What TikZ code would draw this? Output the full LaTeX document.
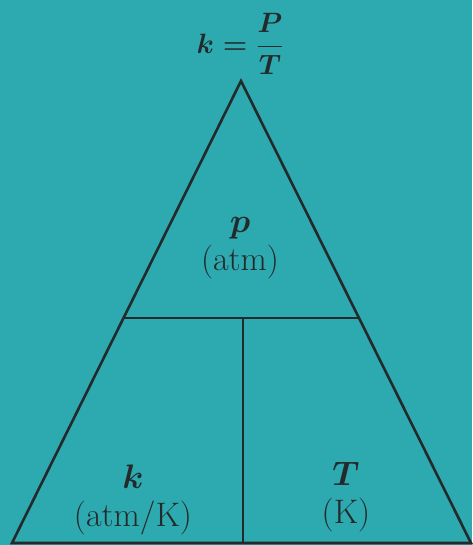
\RequirePackage{fix-cm}
\documentclass[tikz,border=0pt]{standalone}
\usepackage{amsmath}
\usetikzlibrary{calc}
\definecolor{ChartTeal}{RGB}{44,170,176}
\definecolor{InkGray}{RGB}{36,42,44}
\newcommand{\varsym}[1]{{\fontsize{34}{40}\selectfont$#1$}}
\tikzset{
  edge/.style={draw=InkGray,line width=2.6pt,line join=miter},
  qtybox/.style={text=InkGray,align=center,inner sep=0pt,
    font=\fontsize{34}{38}\selectfont\boldmath}
}

\begin{document}
\begin{tikzpicture}[x=1pt,y=-1pt]
  \fill[ChartTeal] (0,0) rectangle (472,545);
  \useasboundingbox (0,0) rectangle (472,545);
  \coordinate (apex) at (241,81);
  \coordinate (botL) at (12,543);
  \coordinate (botR) at (471,543);
  \coordinate (midL) at ($(apex)!0.513!(botL)$);
  \coordinate (midR) at ($(apex)!0.513!(botR)$);
  \coordinate (divTop) at (243,318);
  \coordinate (divBot) at (243,543);
  \draw[edge] (botL) -- (apex) -- (botR) -- cycle;
  \draw[edge] (midL) -- (midR);
  \draw[edge] (divTop) -- (divBot);
  \node[qtybox,font=\fontsize{28}{34}\selectfont\boldmath] (formula) at (240,44) {$k=\dfrac{P}{T}$};
  \node[qtybox] (pres) at (240,248) {\varsym{p}\\(atm)};
  \node[qtybox] (const) at (133,500) {\varsym{k}\\(atm/K)};
  \node[qtybox] (temp) at (346,497) {\varsym{T}\\(K)};
\end{tikzpicture}
\end{document}
